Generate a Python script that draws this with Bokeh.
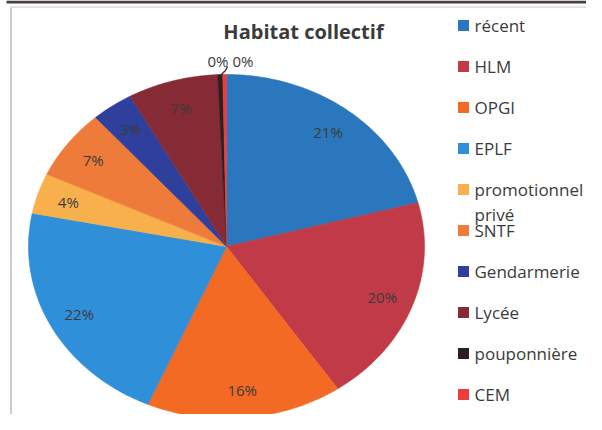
import numpy as np
from bokeh.plotting import figure
from bokeh.models import Range1d
from bokeh.core.properties import value
from bokeh.embed import file_html
from bokeh.resources import INLINE

# ---- data ----
categories = ["récent", "HLM", "OPGI", "EPLF", "promotionnel\nprivé", "SNTF",
              "Gendarmerie", "Lycée", "pouponnière", "CEM"]
values = [20.9, 19.6, 16.0, 21.6, 3.8, 6.6, 3.4, 7.4, 0.4, 0.3]
colors = ["#2a77bd", "#c13a47", "#f26a24", "#2f8fd9", "#f8b04c", "#ef7b3b",
          "#2f3f9c", "#862a35", "#2b1f1f", "#f03b3b"]
title_text = "Habitat collectif"

# ---- layout (pixel coordinates of the picture) ----
W, H = 586, 414
p = figure(width=W, height=H, output_backend="svg", toolbar_location=None,
           x_range=Range1d(0, W), y_range=Range1d(H, 0),
           min_border=0)
p.axis.visible = False
p.grid.visible = False
p.outline_line_color = None
p.background_fill_color = "white"

# frame lines
p.segment(x0=[10.5], y0=[7], x1=[10.5], y1=[H], line_color="#bdbdbd", line_width=1.5)
p.segment(x0=[10], y0=[6.5], x1=[W], y1=[6.5], line_color="#c8c8c8", line_width=1)
p.segment(x0=[6], y0=[1.5], x1=[W], y1=[1.5], line_color="#4a3e3e", line_width=3)

cx, cy, rx, ry = 226, 246, 198, 172
vals = np.array(values, dtype=float)
pct = vals / vals.sum() * 100
cum = np.concatenate([[0], np.cumsum(vals)]) / vals.sum() * 2 * np.pi

xs, ys = [], []
for i in range(len(vals)):
    t = np.linspace(cum[i], cum[i + 1], max(4, int((cum[i + 1] - cum[i]) * 60)))
    xs.append(np.concatenate([[cx], cx + rx * np.sin(t)]).tolist())
    ys.append(np.concatenate([[cy], cy - ry * np.cos(t)]).tolist())
p.patches(xs, ys, fill_color=colors, line_color=colors, line_width=0.6)

# labels
lab_x, lab_y, lab_t = [], [], []
small = []
for i in range(len(vals)):
    mid = (cum[i] + cum[i + 1]) / 2
    txt = "%.0f%%" % pct[i]
    if pct[i] < 1:
        small.append((i, mid, txt))
        continue
    lab_x.append(cx + 0.84 * rx * np.sin(mid))
    lab_y.append(cy - 0.84 * ry * np.cos(mid))
    lab_t.append(txt)
p.text(lab_x, lab_y, text=lab_t, text_align="center", text_baseline="middle",
       text_font=value("Open Sans"), text_font_size="15px", text_color="#3b3b3b")

top_y = 60
for k, (i, mid, txt) in enumerate(small):
    if k == 0:
        p.text([cx + 2], [top_y], text=[txt], text_align="right", text_baseline="middle",
               text_font=value("Open Sans"), text_font_size="15px", text_color="#3b3b3b")
        ex = cx + rx * np.sin(mid)
        ey = cy - ry * np.cos(mid)
        p.line([cx + 1, cx - 1, ex], [top_y + 6, top_y + 10, ey + 1], line_color="#3b3b3b", line_width=1.5)
    else:
        p.text([cx + 6], [top_y], text=[txt], text_align="left", text_baseline="middle",
               text_font=value("Open Sans"), text_font_size="15px", text_color="#3b3b3b")

# title
p.text([303], [31], text=[title_text], text_align="center", text_baseline="middle",
       text_font=value("Open Sans"), text_font_size="20px", text_font_style="bold",
       text_color="#3b3b3b")

# legend
leg_y = [25 + 41 * i for i in range(len(categories))]
p.rect([463] * len(categories), leg_y, width=11, height=11, fill_color=colors,
       line_color=None)
p.text([474] * len(categories), [y - 12 for y in leg_y], text=categories,
       text_align="left", text_baseline="top", text_font=value("Open Sans"),
       text_font_size="17px", text_color="#3b3b3b", text_line_height=1.12)

open("out.html", "w").write(file_html(p, INLINE))
